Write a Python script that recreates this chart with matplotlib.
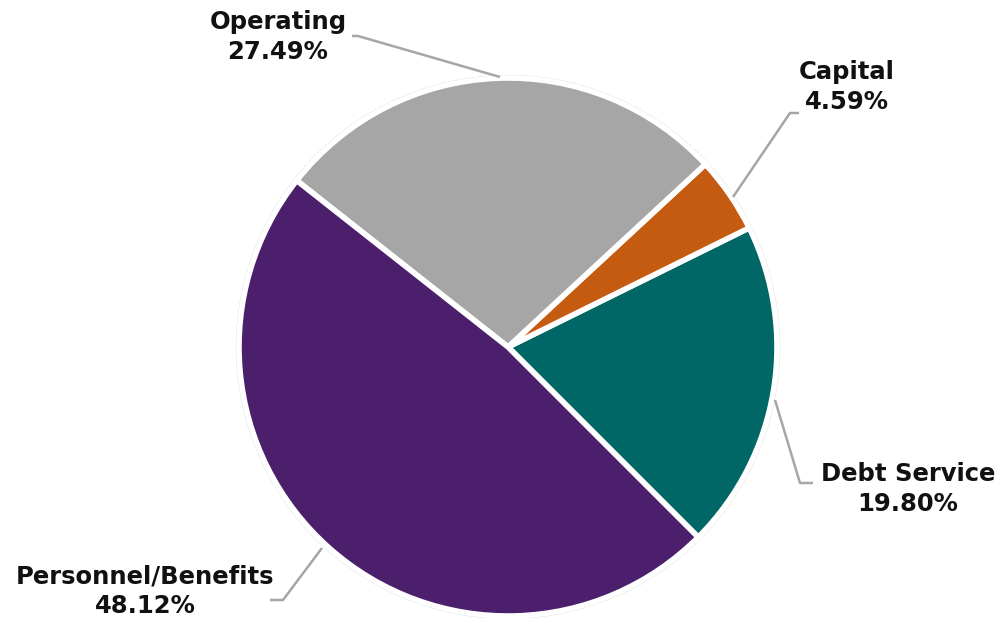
import matplotlib
matplotlib.use('Agg')
import matplotlib.pyplot as plt

# budget shares (percent)
labels = ['Debt Service', 'Capital', 'Operating', 'Personnel/Benefits']
shares = [19.80, 4.59, 27.49, 48.12]
colors = ['#006766', '#C55A11', '#A6A6A6', '#4B1F6B']

H = 618
cx, cy, r = 508, H - 347, 269

fig = plt.figure(figsize=(10, 6.18), dpi=100)
ax = fig.add_axes([0, 0, 1, 1])
ax.set_xlim(0, 1000)
ax.set_ylim(0, H)
ax.set_aspect('equal')
ax.axis('off')

# outer faint ring
ring = plt.Circle((cx, cy), r + 2.5, facecolor='none', edgecolor='#d9d9d9', lw=0.8)
ax.add_patch(ring)

ax.pie(shares, colors=colors, startangle=-45, counterclock=True,
       center=(cx, cy), radius=r,
       wedgeprops=dict(edgecolor='white', linewidth=4))
ax.set_xlim(0, 1000)
ax.set_ylim(0, H)

# label placement (pixel coords, y measured from top) and leader lines
label_pos = {
    'Operating': (278, 37),
    'Capital': (847, 87),
    'Debt Service': (908, 489),
    'Personnel/Benefits': (145, 591),
}
leaders = {
    'Operating': [(352, 36), (358, 36), (500, 77)],
    'Capital': [(799, 113), (790, 113), (733, 197)],
    'Debt Service': [(813, 483), (800, 483), (775, 400)],
    'Personnel/Benefits': [(270, 600), (283, 600), (322, 548)],
}

for lab, val in zip(labels, shares):
    x, y = label_pos[lab]
    ax.text(x, H - y, f'{lab}\n{val:.2f}%', ha='center', va='center',
            fontsize=17.5, fontweight='bold', family='DejaVu Sans',
            color='#111111', linespacing=1.3)
    pts = leaders[lab]
    ax.plot([p[0] for p in pts], [H - p[1] for p in pts],
            color='#A6A6A6', lw=1.8, solid_capstyle='butt')

fig.savefig('out.png', dpi=100, facecolor='white')
